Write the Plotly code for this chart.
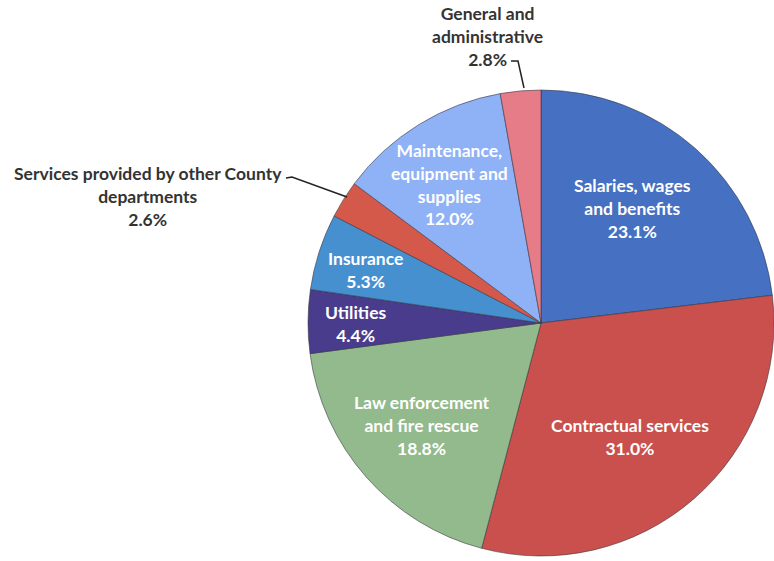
import plotly.graph_objects as go

categories = [
    "Salaries, wages and benefits",
    "Contractual services",
    "Law enforcement and fire rescue",
    "Utilities",
    "Insurance",
    "Services provided by other County departments",
    "Maintenance, equipment and supplies",
    "General and administrative",
]
shares = [23.1, 31.0, 18.8, 4.4, 5.3, 2.6, 12.0, 2.8]
label_lines = [
    ["Salaries, wages", "and benefits"],
    ["Contractual services"],
    ["Law enforcement", "and fire rescue"],
    ["Utilities"],
    ["Insurance"],
    ["Services provided by other County", "departments"],
    ["Maintenance,", "equipment and", "supplies"],
    ["General and", "administrative"],
]
slice_colors = ["#4670c2", "#c9504c", "#92ba8c", "#4a3c8c", "#4690cf", "#d5594b", "#8fb1f5", "#e57c87"]

W, H = 774, 561
cx, cy, r = 542, 323, 234

fig = go.Figure(go.Pie(
    labels=categories,
    values=shares,
    sort=False,
    direction="clockwise",
    rotation=0,
    marker=dict(colors=slice_colors, line=dict(color="rgba(50,50,60,0.55)", width=1)),
    textinfo="none",
    hoverinfo="label+percent",
    domain=dict(x=[(cx - r) / W, min(1.0, (cx + r) / W)], y=[1 - (cy + r) / H, 1 - (cy - r) / H]),
    showlegend=False,
))

# label anchor positions (pixel coords of text block centre)
label_pos = [
    (632, 208), (630, 437), (422, 425), (355, 324),
    (365, 270), (148, 196), (449, 184), (487, 37),
]
inside = [True, True, True, True, True, False, True, False]

annotations = []
for i, (lines, v) in enumerate(zip(label_lines, shares)):
    x, y = label_pos[i]
    txt = "<br>".join(lines + [f"{v:.1f}%"])
    annotations.append(dict(
        x=x / W, y=1 - y / H, xref="paper", yref="paper",
        text=txt, showarrow=False, align="center",
        xanchor="center", yanchor="middle",
        font=dict(family="Lato", size=17.5, weight="bold",
                  color="white" if inside[i] else "#333333"),
    ))

fig.update_layout(
    width=W, height=H,
    margin=dict(l=0, r=0, t=0, b=0),
    paper_bgcolor="white", plot_bgcolor="white",
    annotations=annotations,
    shapes=[
        dict(type="path", xref="paper", yref="paper",
             path=f"M {286/W},{1-178/H} L {292/W},{1-177/H} L {347/W},{1-197/H}",
             line=dict(color="#222222", width=1.5)),
        dict(type="path", xref="paper", yref="paper",
             path=f"M {511/W},{1-61/H} L {518/W},{1-61/H} L {524/W},{1-88/H}",
             line=dict(color="#222222", width=1.5)),
    ],
)

fig.write_html("out.html")
